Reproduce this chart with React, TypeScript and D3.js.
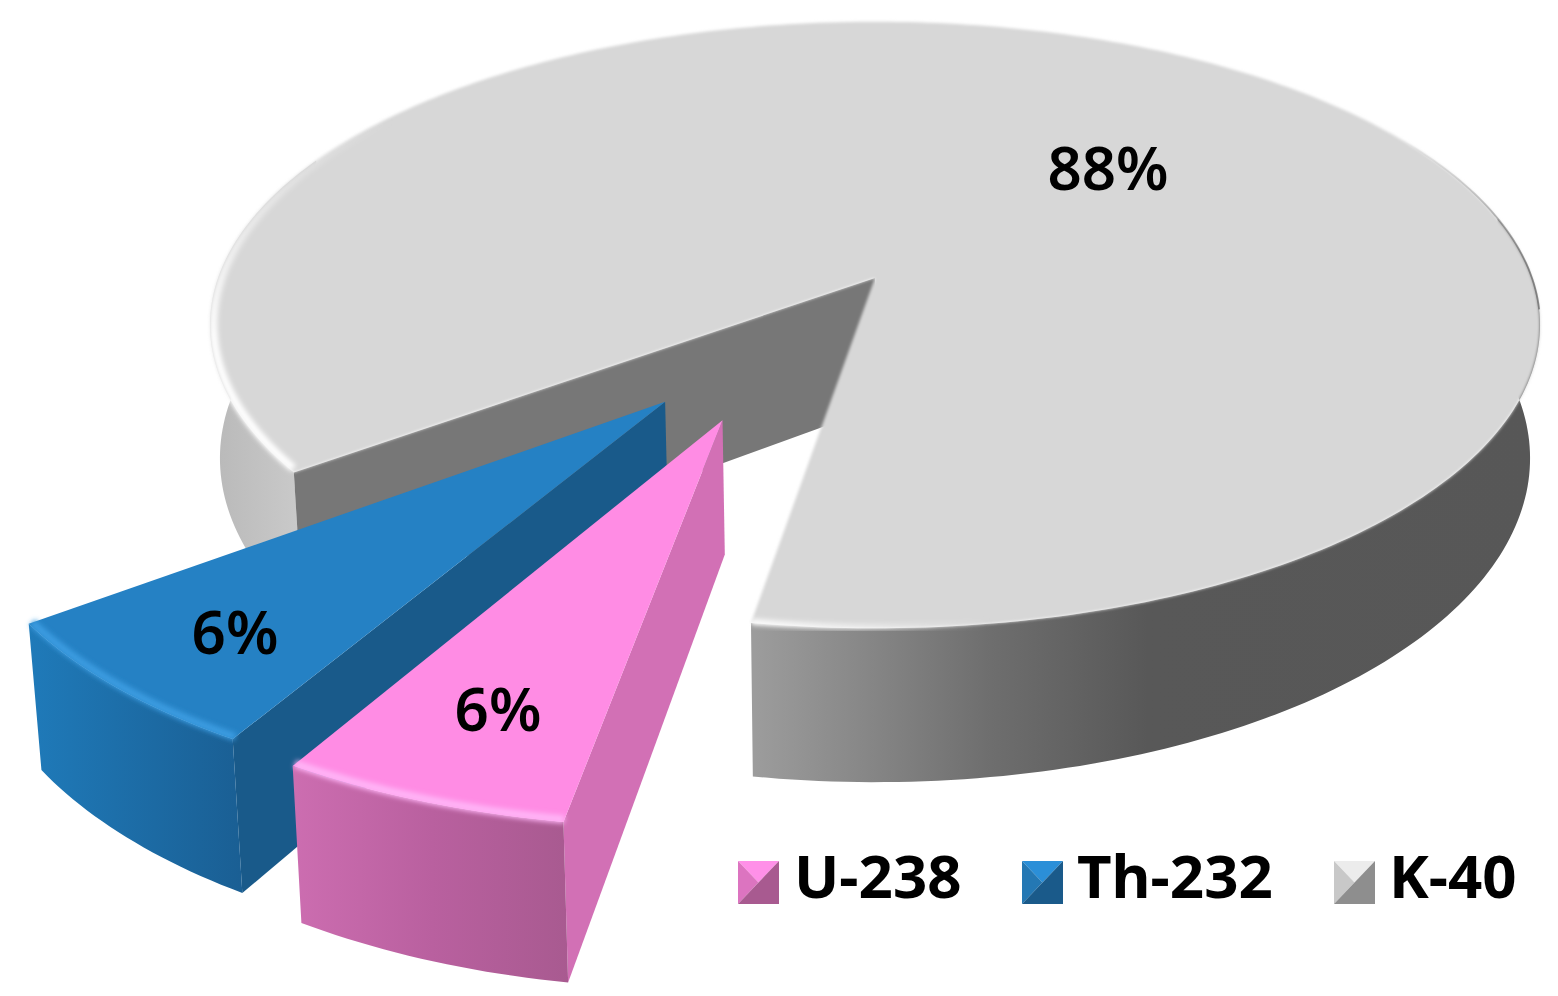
import * as d3 from 'd3'

const categories = ['U-238', 'Th-232', 'K-40']
const shares = [6, 6, 88]
const percentLabels = ['6%', '6%', '88%']

const width = 1558
const height = 996

// perspective of the disc plane
const cx = 875
const cy = 278
const radiusX = 657
const radiusY = 296
const tilt = 0.155
const converge = 0.985

const deg = Math.PI / 180
const startAngle = 188.5 * deg

const sliceOffset = [
  [-0.216, -0.447],
  [-0.3, -0.393],
  [0, 0],
]
const sliceRadius = [0.995, 0.99, 1]
const sliceDepth = [125, 124, 130]
// the 3d view widens the gap a little, degrees at [start, end] of each slice
const edgeNudge = [
  [0.35, -0.6],
  [-0.6, 1.3],
  [1.7, 0.7],
]

const topColor = ['#ff8ce4', '#2581c4', '#d7d7d7']
const sideColor = ['#d270b5', '#195a8a', '#777777']
const rimColor = ['#ffb4f6', '#3b9be0', '#fbfbfb']

const markerColors = [
  ['#ff90e8', '#dc74c0', '#a85a90'],
  ['#2b8fd8', '#2478b4', '#1a5a8a'],
  ['#ececec', '#c8c8c8', '#8e8e8e'],
]
const markerX = [738, 1022, 1334]
const legendTextX = [794, 1077, 1389]
const labelPos = [
  [498, 731],
  [235, 654],
  [1108, 190],
]

type Pt = [number, number]

const project = (X: number, Y: number, depth = 0): Pt => {
  const s = 1 / (1 + tilt * Y)
  const g = depth ? converge : 1
  return [cx + radiusX * X * s * g, cy + (depth - radiusY * Y) * s]
}

const pies = d3
  .pie<number>()
  .sort(null)
  .startAngle(startAngle)
  .endAngle(startAngle + 2 * Math.PI)(shares)
  .map((p, i) => ({
    ...p,
    startAngle: p.startAngle + edgeNudge[i][0] * deg,
    endAngle: p.endAngle + edgeNudge[i][1] * deg,
  }))

const line = d3.line()

// point on slice i at angle a, r is the fraction of the radius
const pt = (i: number, a: number, r: number, depth = 0): Pt => {
  const [ox, oy] = sliceOffset[i]
  const rr = r * sliceRadius[i]
  return project(ox + rr * Math.sin(a), oy + rr * Math.cos(a), depth)
}

const arcPts = (i: number, a0: number, a1: number, r = 1, depth = 0): Pt[] => {
  const n = Math.max(4, Math.ceil(Math.abs(a1 - a0) / (1 * deg)))
  return d3.range(n + 1).map((k) => pt(i, a0 + ((a1 - a0) * k) / n, r, depth))
}

const topPath = (i: number) => {
  const p = pies[i]
  return line([pt(i, 0, 0), ...arcPts(i, p.startAngle, p.endAngle)]) + 'Z'
}

const outerWall = (i: number, a0: number, a1: number) => {
  const d = sliceDepth[i]
  return line([...arcPts(i, a0, a1), ...arcPts(i, a1, a0, 1, d)]) + 'Z'
}

const radialWall = (i: number, a: number) => {
  const d = sliceDepth[i]
  return line([pt(i, 0, 0), pt(i, a, 1), pt(i, a, 1, d), pt(i, 0, 0, d)]) + 'Z'
}

const rim = (i: number, a0: number, a1: number, r: number) => line(arcPts(i, a0, a1, r)) || ''

const [u, th, k] = pies
const kFrontEnd = k.endAngle - 2 * Math.PI

export default function App() {
  return (
    <svg
      width={width}
      height={height}
      style={{ position: 'absolute', left: 0, top: 0, background: '#fff' }}
      fontFamily="'Noto Sans', sans-serif"
    >
      <defs>
        <filter id="soft" x="-20%" y="-20%" width="140%" height="140%">
          <feGaussianBlur stdDeviation="2.4" />
        </filter>
        <filter id="edge" x="-5%" y="-5%" width="110%" height="110%">
          <feGaussianBlur stdDeviation="1.7" />
        </filter>
        <linearGradient id="wallK" gradientUnits="userSpaceOnUse" x1="755" x2="1540" y1="0" y2="0">
          <stop offset="0" stopColor="#9c9c9c" />
          <stop offset="0.12" stopColor="#8a8a8a" />
          <stop offset="0.3" stopColor="#6e6e6e" />
          <stop offset="0.5" stopColor="#585858" />
          <stop offset="1" stopColor="#575757" />
        </linearGradient>
        <linearGradient id="wallKLeft" gradientUnits="userSpaceOnUse" x1="210" x2="300" y1="0" y2="0">
          <stop offset="0" stopColor="#b8b8b8" />
          <stop offset="1" stopColor="#cacaca" />
        </linearGradient>
        <linearGradient id="wallU" gradientUnits="userSpaceOnUse" x1="295" x2="570" y1="0" y2="0">
          <stop offset="0" stopColor="#cc6db0" />
          <stop offset="0.5" stopColor="#b9609f" />
          <stop offset="1" stopColor="#a85a90" />
        </linearGradient>
        <linearGradient id="wallTh" gradientUnits="userSpaceOnUse" x1="30" x2="240" y1="0" y2="0">
          <stop offset="0" stopColor="#1f7ab9" />
          <stop offset="1" stopColor="#1a5f94" />
        </linearGradient>
        <linearGradient id="rimLeft" gradientUnits="userSpaceOnUse" x1="0" x2="0" y1="120" y2="340">
          <stop offset="0" stopColor="#ffffff" stopOpacity="0" />
          <stop offset="1" stopColor="#ffffff" stopOpacity="1" />
        </linearGradient>
        <linearGradient id="rimFront" gradientUnits="userSpaceOnUse" x1="755" x2="990" y1="0" y2="0">
          <stop offset="0" stopColor="#ffffff" stopOpacity="0.95" />
          <stop offset="1" stopColor="#ffffff" stopOpacity="0" />
        </linearGradient>
        <linearGradient id="rimDark" gradientUnits="userSpaceOnUse" x1="0" x2="0" y1="140" y2="270">
          <stop offset="0" stopColor="#707070" stopOpacity="0" />
          <stop offset="1" stopColor="#707070" stopOpacity="0.8" />
        </linearGradient>
      </defs>

      {/* K-40 */}
      <path d={outerWall(2, 78 * deg, kFrontEnd)} fill="url(#wallK)" />
      <path d={outerWall(2, k.startAngle, 295 * deg)} fill="url(#wallKLeft)" />
      <path d={radialWall(2, k.startAngle)} fill={sideColor[2]} />
      <path d={topPath(2)} fill={topColor[2]} filter="url(#edge)" />
      <path d={rim(2, k.startAngle + 0.6 * deg, 325 * deg, 0.995)} fill="none" stroke="url(#rimLeft)" strokeWidth={8} filter="url(#soft)" />
      <path d={rim(2, kFrontEnd, kFrontEnd - 26 * deg, 0.997)} fill="none" stroke="url(#rimFront)" strokeWidth={6} filter="url(#soft)" />
      <path d={rim(2, 55 * deg, 96 * deg, 1)} fill="none" stroke="url(#rimDark)" strokeWidth={1.8} />

      {/* Th-232 */}
      <path d={radialWall(1, th.startAngle)} fill={sideColor[1]} />
      <path d={outerWall(1, th.startAngle, th.endAngle)} fill="url(#wallTh)" />
      <path d={topPath(1)} fill={topColor[1]} />
      <path d={rim(1, th.startAngle, th.endAngle, 0.995)} fill="none" stroke={rimColor[1]} strokeWidth={8} filter="url(#soft)" />

      {/* U-238 */}
      <path d={radialWall(0, u.startAngle)} fill={sideColor[0]} />
      <path d={outerWall(0, u.startAngle, u.endAngle)} fill="url(#wallU)" />
      <path d={topPath(0)} fill={topColor[0]} />
      <path d={rim(0, u.startAngle, u.endAngle, 0.995)} fill="none" stroke={rimColor[0]} strokeWidth={8} filter="url(#soft)" />

      {percentLabels.map((t, i) => (
        <text key={t + i} x={labelPos[i][0]} y={labelPos[i][1]} textAnchor="middle" fontSize={60} fontWeight={600} fill="#000">
          {t}
        </text>
      ))}

      {categories.map((c, i) => {
        const x = markerX[i]
        const y = 861
        const w = 41
        const h = 43
        const mid: Pt = [x + w / 2, y + h / 2]
        return (
          <g key={c}>
            <path d={line([[x, y], [x + w, y], mid]) + 'Z'} fill={markerColors[i][0]} />
            <path d={line([[x, y], [x, y + h], mid]) + 'Z'} fill={markerColors[i][1]} />
            <path d={line([[x, y + h], [x + w, y], [x + w, y + h]]) + 'Z'} fill={markerColors[i][2]} />
            <text x={legendTextX[i]} y={898} fontSize={60} fontWeight={700} fill="#000">
              {c}
            </text>
          </g>
        )
      })}
    </svg>
  )
}
